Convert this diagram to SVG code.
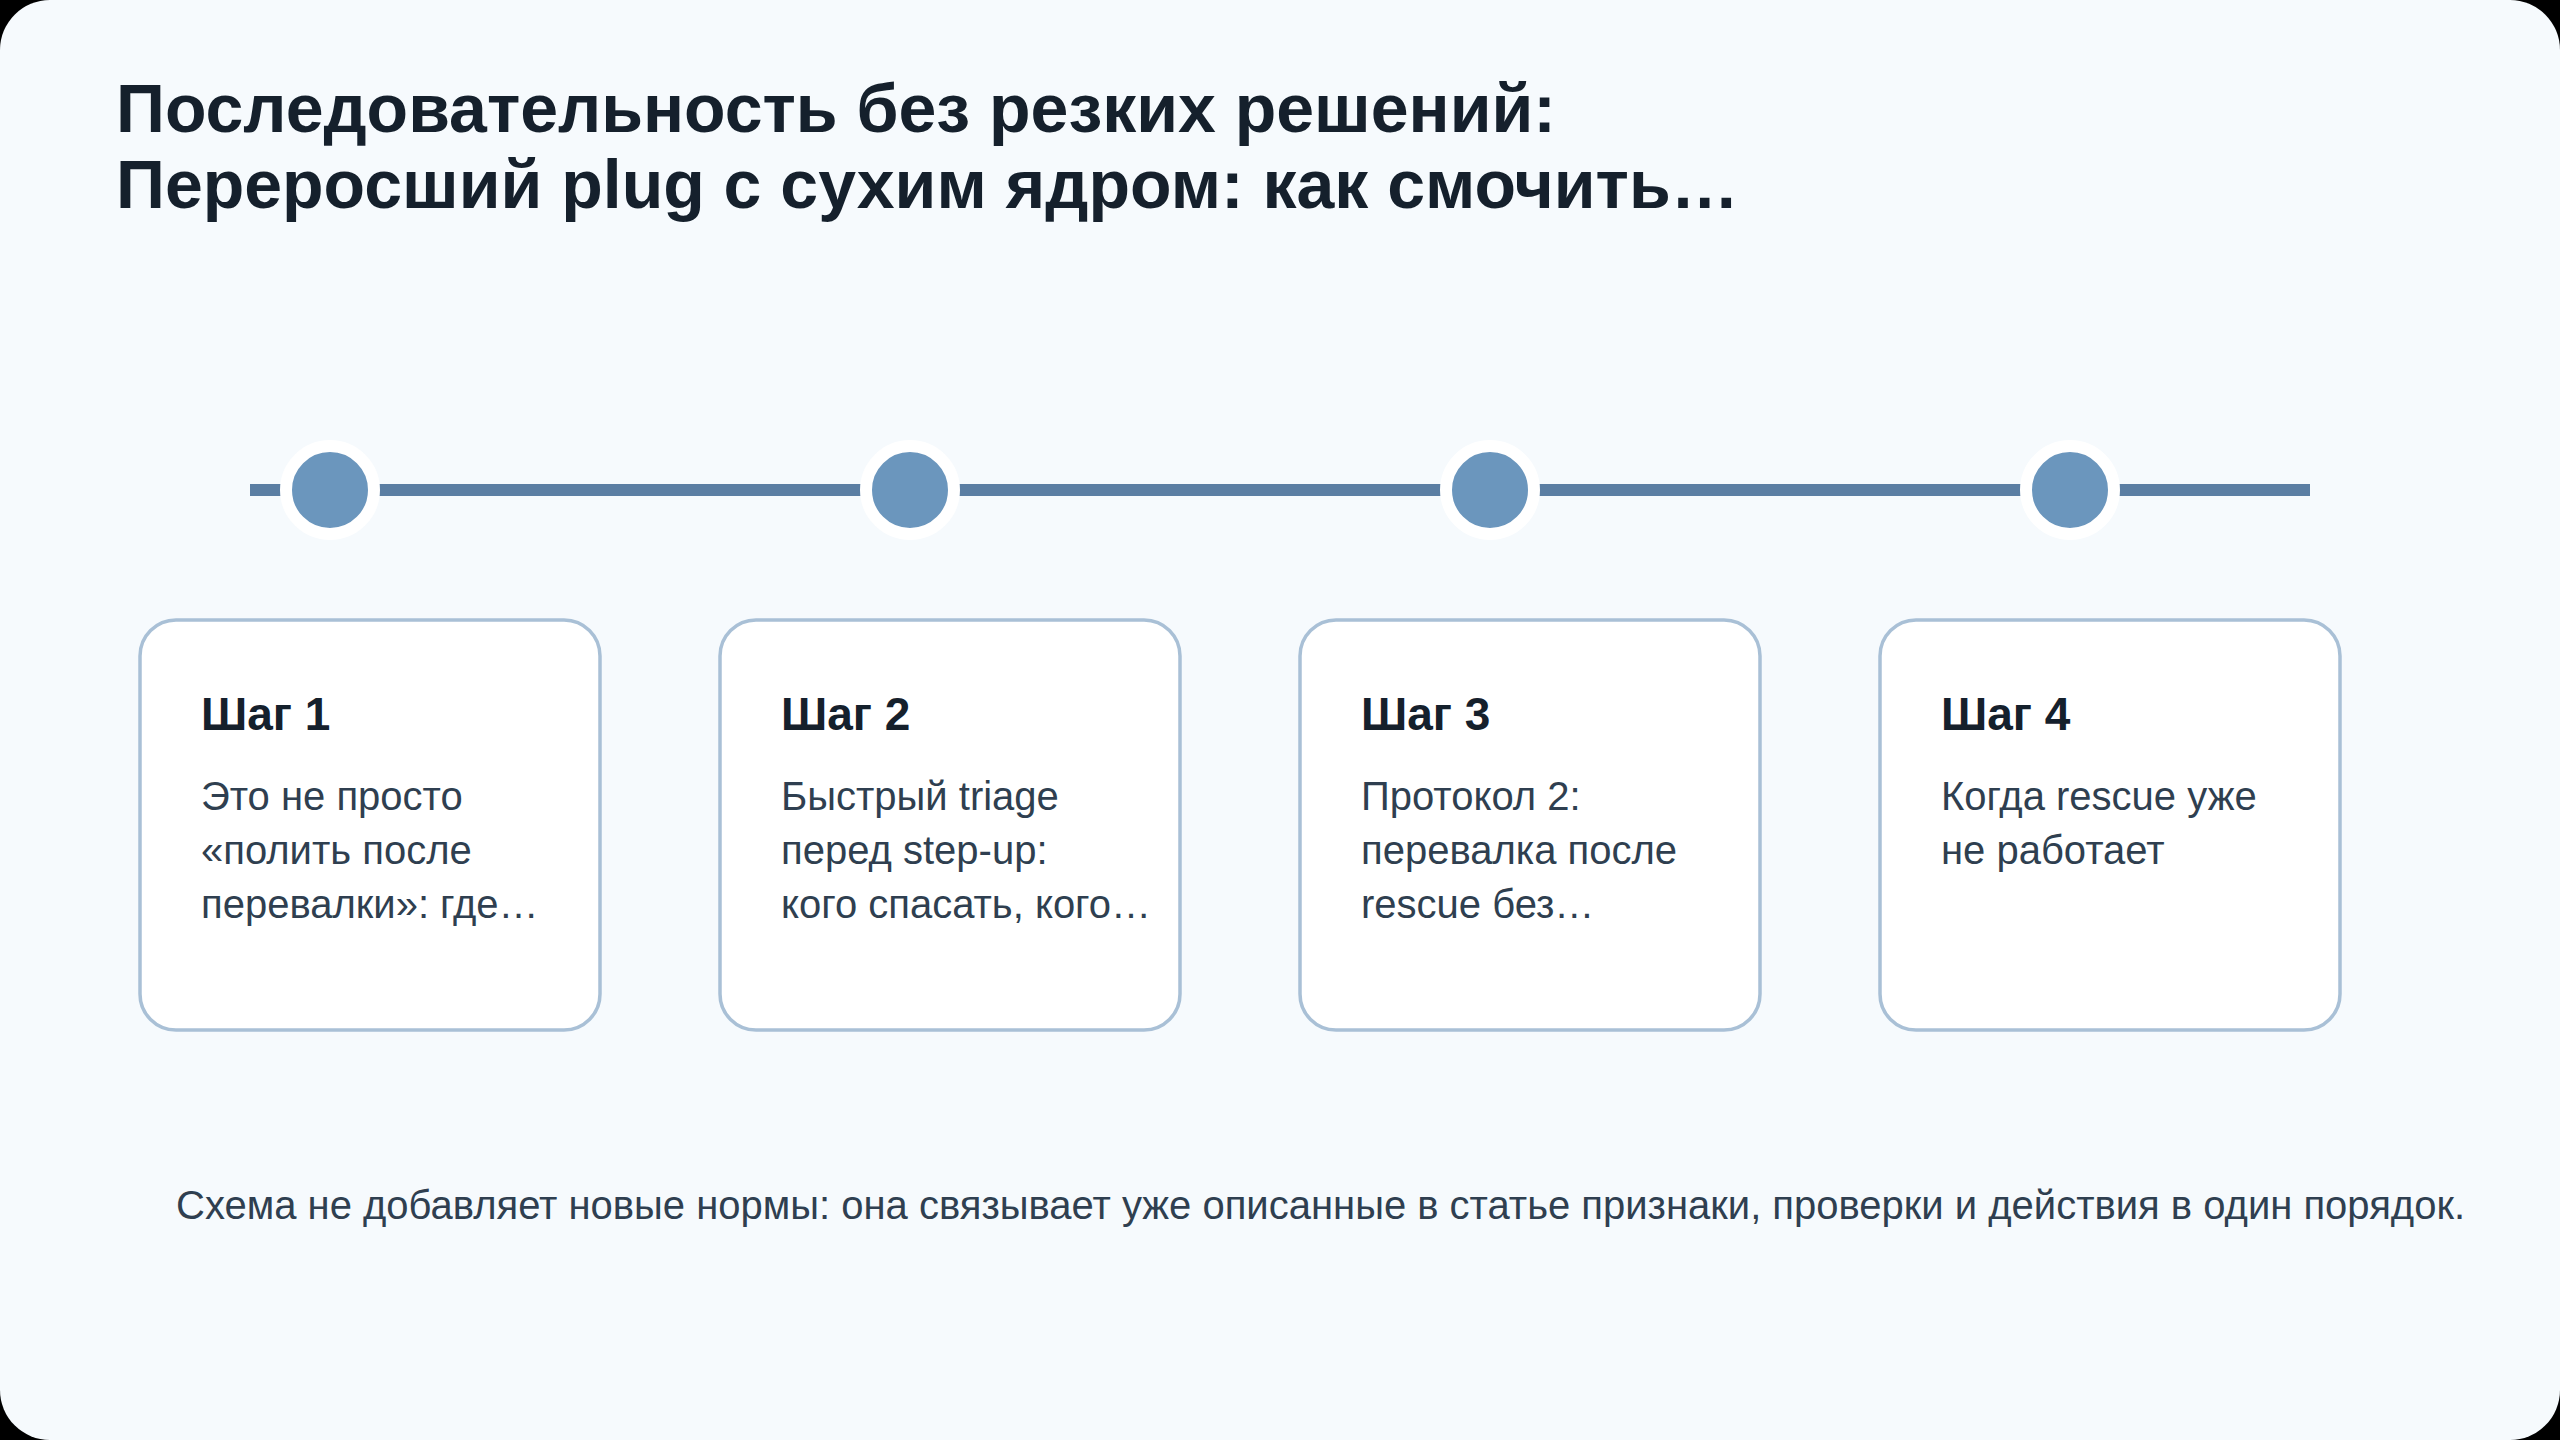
<svg xmlns="http://www.w3.org/2000/svg" width="2560" height="1440" viewBox="0 0 2560 1440">
  <style>
    .title { font-family: "Liberation Sans", Arial, sans-serif; font-weight: bold; font-size: 68px; fill: #15202c; }
    .card { fill: #ffffff; stroke: #a9c0d6; stroke-width: 3.5; }
    .step { font-family: "Liberation Sans", Arial, sans-serif; font-weight: bold; font-size: 46px; fill: #15202c; }
    .body { font-family: "Liberation Sans", Arial, sans-serif; font-size: 40px; fill: #2f3f50; }
    .foot { font-family: "Liberation Sans", Arial, sans-serif; font-size: 40px; fill: #2f3f50; }
    .dot { fill: #6b96bd; stroke: #ffffff; stroke-width: 12; }
    .track { stroke: #5b7ea3; stroke-width: 12; fill: none; }
  </style>
  <rect x="0" y="0" width="2560" height="1440" fill="#000000"/>
  <rect x="0" y="0" width="2560" height="1440" rx="50" ry="50" fill="#f6fafd"/>
  <g id="title">
    <text class="title" x="116" y="132">Последовательность без резких решений:</text>
    <text class="title" x="116" y="208">Переросший plug с сухим ядром: как смочить…</text>
  </g>
  <g id="connectors">
    <line class="track" x1="250" y1="490" x2="2310" y2="490"/>
  </g>
  <g id="marker-1"><circle class="dot" cx="330" cy="490" r="44"/></g>
  <g id="marker-2"><circle class="dot" cx="910" cy="490" r="44"/></g>
  <g id="marker-3"><circle class="dot" cx="1490" cy="490" r="44"/></g>
  <g id="marker-4"><circle class="dot" cx="2070" cy="490" r="44"/></g>
  <g id="step-1">
    <rect class="card" x="140" y="620" width="460" height="410" rx="36"/>
    <text class="step" x="201" y="730">Шаг 1</text>
    <text class="body" x="201" y="810">Это не просто</text>
    <text class="body" x="201" y="864">«полить после</text>
    <text class="body" x="201" y="918">перевалки»: где…</text>
  </g>
  <g id="step-2">
    <rect class="card" x="720" y="620" width="460" height="410" rx="36"/>
    <text class="step" x="781" y="730">Шаг 2</text>
    <text class="body" x="781" y="810">Быстрый triage</text>
    <text class="body" x="781" y="864">перед step-up:</text>
    <text class="body" x="781" y="918">кого спасать, кого…</text>
  </g>
  <g id="step-3">
    <rect class="card" x="1300" y="620" width="460" height="410" rx="36"/>
    <text class="step" x="1361" y="730">Шаг 3</text>
    <text class="body" x="1361" y="810">Протокол 2:</text>
    <text class="body" x="1361" y="864">перевалка после</text>
    <text class="body" x="1361" y="918">rescue без…</text>
  </g>
  <g id="step-4">
    <rect class="card" x="1880" y="620" width="460" height="410" rx="36"/>
    <text class="step" x="1941" y="730">Шаг 4</text>
    <text class="body" x="1941" y="810">Когда rescue уже</text>
    <text class="body" x="1941" y="864">не работает</text>
  </g>
  <g id="footer">
    <text class="foot" x="176" y="1219">Схема не добавляет новые нормы: она связывает уже описанные в статье признаки, проверки и действия в один порядок.</text>
  </g>
</svg>
